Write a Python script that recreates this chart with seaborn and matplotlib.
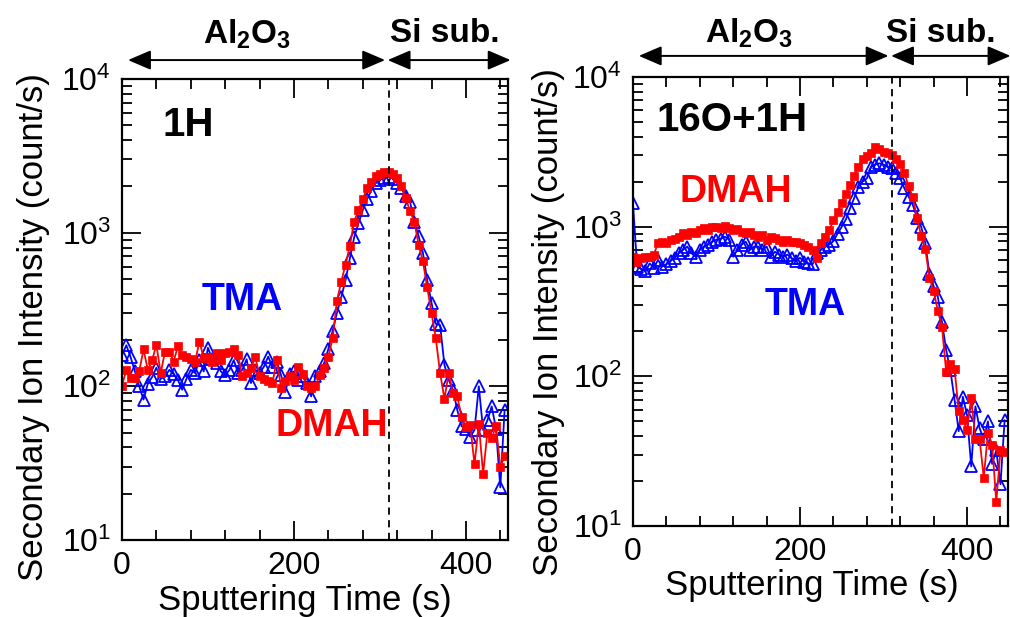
import numpy as np
import pandas as pd
import matplotlib
matplotlib.use("Agg")
import matplotlib.pyplot as plt
from matplotlib.ticker import MultipleLocator, LogLocator, NullFormatter
import seaborn as sns

# Depth profiles sampled every 5 s of sputtering
sputter_time = np.arange(0, 450, 5)

# 1H signal (count/s)
h_tma = [160, 185, 155, 125, 100, 82, 104, 115, 132, 112,
         116, 128, 120, 110, 95, 112, 128, 122, 148, 125,
         178, 150, 141, 125, 118, 128, 148, 122, 128, 150,
         105, 128, 122, 134, 156, 134, 145, 118, 92, 120,
         125, 110, 116, 105, 86, 116, 125, 141, 175, 230,
         300, 380, 490, 680, 930, 1150, 1400, 1650, 1880, 2100,
         2200, 2280, 2310, 2250, 2100, 1950, 1720, 1590, 1180, 950,
         740, 490, 350, 255, 250, 138, 110, 95, 70, 55,
         53, 47, 52, 100, 52, 60, 74, 53, 22, 70]
h_dmah = [101, 128, 113, 113, 125, 174, 128, 148, 186, 122,
          168, 168, 145, 182, 160, 156, 150, 145, 195, 154,
          156, 145, 164, 148, 164, 168, 174, 160, 116, 122,
          131, 156, 116, 112, 108, 105, 148, 98, 108, 116,
          110, 134, 120, 100, 97, 100, 119, 131, 155, 206,
          360, 480, 620, 820, 1180, 1400, 1650, 1950, 2150, 2330,
          2420, 2480, 2480, 2410, 2270, 2000, 1680, 1380, 1180, 830,
          650, 440, 300, 205, 122, 83, 122, 90, 86, 63,
          54, 56, 31, 57, 27, 50, 46, 55, 30, 35]

# 16O+1H signal (count/s)
oh_tma = [1430, 541, 520, 502, 569, 530, 600, 541, 560, 590,
          620, 664, 700, 736, 664, 630, 700, 736, 760, 794,
          820, 830, 857, 820, 630, 700, 760, 794, 700, 736,
          736, 700, 736, 630, 680, 650, 630, 650, 615, 590,
          620, 580, 569, 560, 664, 700, 736, 760, 800, 900,
          1000, 1120, 1330, 1560, 1850, 2000, 2100, 2500, 2600, 2650,
          2600, 2500, 2450, 2280, 2100, 1800, 1590, 1400, 1150, 1000,
          780, 480, 400, 340, 230, 150, 110, 70, 43, 73,
          55, 25, 63, 45, 38, 50, 26, 32, 19, 51]
oh_dmah = [630, 583, 615, 630, 625, 650, 781, 794, 781, 810,
           824, 857, 903, 880, 925, 903, 950, 975, 950, 1000,
           990, 975, 1010, 975, 950, 960, 925, 903, 925, 880,
           857, 880, 810, 857, 840, 810, 794, 810, 794, 794,
           774, 757, 736, 698, 617, 780, 850, 950, 1100, 1250,
           1450, 1660, 1900, 2190, 2510, 2820, 2950, 3100, 3390, 3310,
           3160, 3090, 3020, 2820, 2630, 2290, 1860, 1580, 1150, 870,
           708, 457, 372, 275, 214, 107, 120, 112, 59, 51,
           44, 72, 38, 38, 21, 42, 35, 14.5, 32, 31]

interface_time = 310

sns.set_theme(style="ticks")
plt.rcParams["font.family"] = ["Liberation Sans", "DejaVu Sans"]
plt.rcParams["mathtext.fontset"] = "custom"
plt.rcParams["mathtext.rm"] = "Liberation Sans"
plt.rcParams["mathtext.bf"] = "Liberation Sans:bold"
plt.rcParams["mathtext.it"] = "Liberation Sans:italic"
plt.rcParams["text.color"] = "black"
plt.rcParams["axes.labelcolor"] = "black"
plt.rcParams["xtick.color"] = "black"
plt.rcParams["ytick.color"] = "black"

fig = plt.figure(figsize=(10.1, 6.17), dpi=100)
ax_h = fig.add_axes([0.1208, 0.1248, 0.3822, 0.7472])
ax_oh = fig.add_axes([0.6267, 0.1475, 0.3713, 0.7277])


def draw_panel(ax, tma, dmah, species, species_xy, tma_xy, dmah_xy,
               ylab_xy, xlab_xy, arrow_y):
    df = pd.DataFrame({"time": sputter_time, "TMA": tma, "DMAH": dmah})
    sns.lineplot(data=df, x="time", y="TMA", ax=ax, color="blue",
                 marker="^", markersize=8.5, markerfacecolor="none",
                 markeredgecolor="blue", markeredgewidth=1.3,
                 linewidth=1.3)
    sns.lineplot(data=df, x="time", y="DMAH", ax=ax, color="red",
                 marker="s", markersize=6, markerfacecolor="red",
                 markeredgecolor="red", markeredgewidth=0.5,
                 linewidth=1.3)
    ax.set_yscale("log")
    ax.set_xlim(0, 449)
    ax.set_ylim(10, 1e4)
    ax.axvline(interface_time, color="black", ls=(0, (4, 3)), lw=1.3)

    ax.xaxis.set_major_locator(MultipleLocator(200))
    ax.xaxis.set_minor_locator(MultipleLocator(40))
    ax.yaxis.set_major_locator(LogLocator(base=10))
    ax.yaxis.set_minor_locator(LogLocator(base=10, subs=np.arange(2, 10)))
    ax.yaxis.set_minor_formatter(NullFormatter())
    ax.tick_params(which="both", direction="in", top=True, right=True,
                   color="black", labelcolor="black", width=1.3,
                   labelsize=23, pad=8)
    ax.tick_params(which="major", length=14)
    ax.tick_params(which="minor", length=7)
    for sp in ax.spines.values():
        sp.set_color("black")
        sp.set_linewidth(1.6)

    ax.set_xlabel("Sputtering Time (s)", fontsize=25, color="black")
    ax.set_ylabel("Secondary Ion Intensity (count/s)", fontsize=25,
                  color="black")
    ax.yaxis.set_label_coords(*ylab_xy)
    ax.xaxis.set_label_coords(*xlab_xy)

    ax.text(*species_xy, species, transform=ax.transAxes, fontsize=29,
            fontweight="bold", ha="left", va="center", color="black")
    ax.text(*tma_xy, "TMA", transform=ax.transAxes, fontsize=27,
            fontweight="bold", ha="center", va="center", color="blue")
    ax.text(*dmah_xy, "DMAH", transform=ax.transAxes, fontsize=27,
            fontweight="bold", ha="center", va="center", color="red")

    arrow_kw = dict(arrowstyle="<|-|>,head_length=0.7,head_width=0.3",
                    color="black", lw=1.4, shrinkA=0, shrinkB=0,
                    mutation_scale=20)
    ax.annotate("", xy=(7, arrow_y), xytext=(interface_time - 4, arrow_y),
                xycoords=("data", "axes fraction"), arrowprops=arrow_kw,
                annotation_clip=False)
    ax.annotate("", xy=(interface_time - 1, arrow_y), xytext=(452, arrow_y),
                xycoords=("data", "axes fraction"), arrowprops=arrow_kw,
                annotation_clip=False)


draw_panel(ax_h, h_tma, h_dmah, "1H",
           species_xy=(0.106, 0.90), tma_xy=(0.312, 0.52),
           dmah_xy=(0.543, 0.247), ylab_xy=(-0.187, 0.462),
           xlab_xy=(0.474, -0.095), arrow_y=1.041)
draw_panel(ax_oh, oh_tma, oh_dmah, "16O+1H",
           species_xy=(0.064, 0.904), tma_xy=(0.46, 0.492),
           dmah_xy=(0.275, 0.744), ylab_xy=(-0.181, 0.454),
           xlab_xy=(0.477, -0.095), arrow_y=1.047)

# Layer labels above each panel
for x, y in [(0.2446, 0.945), (0.7416, 0.9465)]:
    fig.text(x, y, r"$\mathbf{Al_{2}O_{3}}$", fontsize=24, ha="center",
             va="center", color="black")
for x, y in [(0.4406, 0.945), (0.9317, 0.9465)]:
    fig.text(x, y, "Si sub.", fontsize=24, fontweight="bold", ha="center",
             va="center", color="black")

fig.savefig("out.png", dpi=100)
